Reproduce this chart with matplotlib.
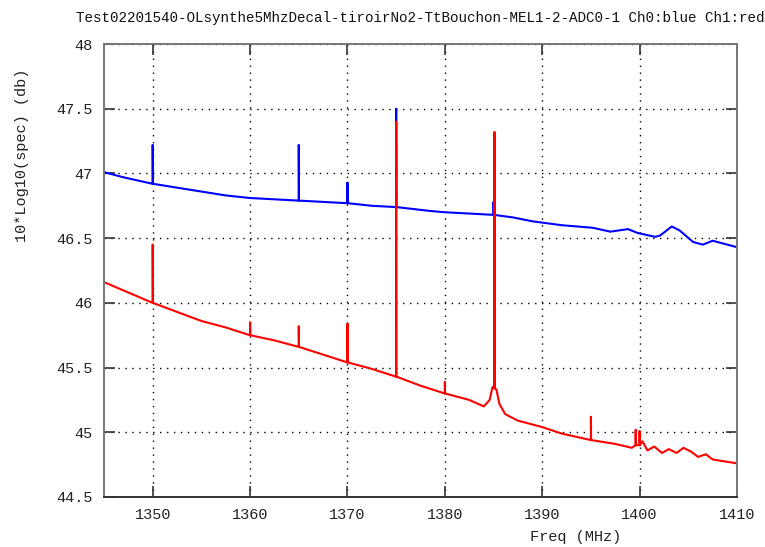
import matplotlib
matplotlib.use("Agg")
import matplotlib.pyplot as plt
import numpy as np

# Ch0 (blue) baseline, read every few MHz
blue_freq = [1345, 1347, 1350, 1352.5, 1355, 1357.5, 1360, 1362.5, 1365, 1367.5, 1370,
             1372.5, 1375, 1378.5, 1380, 1382.5, 1385, 1387, 1389, 1392, 1395.2,
             1397, 1398.8, 1399.8, 1401.6, 1402.1, 1403.3, 1404.1, 1405.5,
             1406.5, 1407.5, 1410]
blue_level = [47.01, 46.97, 46.92, 46.89, 46.86, 46.83, 46.81, 46.80, 46.79, 46.78, 46.77,
              46.75, 46.74, 46.71, 46.70, 46.69, 46.68, 46.66, 46.63, 46.60, 46.58,
              46.55, 46.57, 46.54, 46.51, 46.52, 46.59, 46.56, 46.47,
              46.45, 46.48, 46.43]

# Ch0 narrow lines: frequency, floor and peak
blue_spike_freq = [1350, 1365, 1370, 1375, 1385]
blue_spike_base = [46.92, 46.79, 46.77, 46.74, 46.68]
blue_spike_top = [47.22, 47.22, 46.93, 47.50, 46.78]

# Ch1 (red) baseline
red_freq = [1345, 1347.5, 1350, 1352.5, 1355, 1357.5, 1360, 1362.5, 1365, 1367.5,
            1370, 1372.5, 1375, 1377.5, 1380, 1382.5, 1384.0, 1384.6, 1384.9,
            1385.3, 1385.6, 1386.2, 1387.5, 1390, 1392, 1395, 1397.5, 1399.2,
            1400.3, 1400.8, 1401.5, 1402.3, 1403, 1403.8, 1404.5, 1405.3, 1406,
            1406.8, 1407.5, 1408.3, 1410]
red_level = [46.16, 46.08, 46.00, 45.93, 45.86, 45.81, 45.75, 45.71, 45.66, 45.60,
             45.54, 45.49, 45.43, 45.36, 45.30, 45.25, 45.20, 45.25, 45.35,
             45.33, 45.22, 45.14, 45.09, 45.04, 44.99, 44.94, 44.91, 44.88,
             44.93, 44.86, 44.89, 44.84, 44.87, 44.84, 44.88, 44.85, 44.81,
             44.83, 44.79, 44.78, 44.76]

# Ch1 narrow lines
red_spike_freq = [1350, 1360, 1365, 1370, 1375, 1380, 1385.1, 1395, 1399.6, 1400.0]
red_spike_base = [46.00, 45.75, 45.66, 45.54, 45.43, 45.30, 45.34, 44.94, 44.90, 44.90]
red_spike_top = [46.45, 45.85, 45.82, 45.84, 47.40, 45.39, 47.32, 45.12, 45.02, 45.01]

title = "Test02201540-OLsynthe5MhzDecal-tiroirNo2-TtBouchon-MEL1-2-ADC0-1 Ch0:blue Ch1:red"
x_ticks = [1350, 1360, 1370, 1380, 1390, 1400, 1410]
y_ticks = [44.5, 45, 45.5, 46, 46.5, 47, 47.5, 48]


def with_spikes(freq, level, sf, sb, st):
    # merge the narrow lines into the trace as up/down steps
    f = list(freq)
    v = list(level)
    for fr, b, t in zip(sf, sb, st):
        f += [fr - 0.02, fr, fr + 0.02]
        v += [b, t, b]
    order = np.argsort(f, kind="stable")
    return np.array(f)[order], np.array(v)[order]


plt.rcParams["font.family"] = ["Liberation Mono", "DejaVu Sans Mono"]

fig = plt.figure(figsize=(7.65, 5.47), dpi=100)
ax = fig.add_axes([104 / 765, 1 - 497 / 547, 633 / 765, 453 / 547])

bf, bv = with_spikes(blue_freq, blue_level, blue_spike_freq, blue_spike_base, blue_spike_top)
rf, rv = with_spikes(red_freq, red_level, red_spike_freq, red_spike_base, red_spike_top)
ax.plot(bf, bv, color="#0000ff", lw=1.5)
ax.plot(rf, rv, color="#ff0000", lw=1.5)

ax.set_xlim(1345, 1410)
ax.set_ylim(44.5, 48)
ax.set_xticks(x_ticks)
ax.set_yticks(y_ticks)
ax.set_yticklabels([("%g" % t) for t in y_ticks])
ax.grid(True, color="black", linestyle=(0, (1, 4)), lw=1.0)
ax.tick_params(direction="in", length=8, width=1.2, color="#333333",
               top=True, right=True, labelsize=11, labelcolor="#222222", pad=8)
for s in ax.spines.values():
    s.set_color("#777777")
    s.set_linewidth(1.4)
ax.spines["bottom"].set_color("#333333")

ax.set_title(title, fontsize=10.3, pad=16, color="#111111")
ax.set_xlabel("Freq (MHz)", fontsize=11, color="#222222", va="center")
ax.xaxis.set_label_coords((576 - 104) / 633, -40 / 453)
ax.set_ylabel("10*Log10(spec) (db)", fontsize=11, color="#222222", va="center")
ax.yaxis.set_label_coords(-(104 - 22) / 633, (497 - 155) / 453)

fig.savefig("out.png", dpi=100)
